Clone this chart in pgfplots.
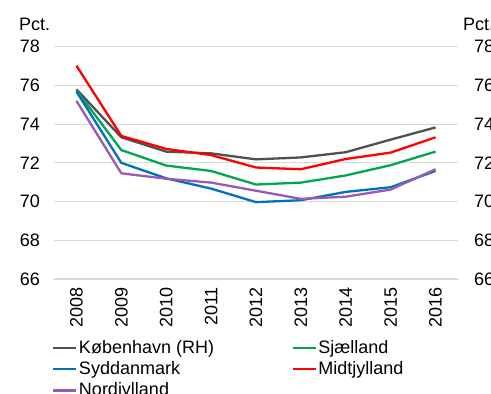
\documentclass[border=0pt]{standalone}
\usepackage{fontspec}
\setmainfont{Liberation Sans}
\usepackage{pgfplots}
\pgfplotsset{compat=1.18}
\definecolor{cKbh}{HTML}{505050}
\definecolor{cSja}{HTML}{00A650}
\definecolor{cSyd}{HTML}{0070C0}
\definecolor{cMid}{HTML}{FF0000}
\definecolor{cNor}{HTML}{9B59B6}
\definecolor{gridc}{HTML}{D9D9D9}
\begin{document}
\fontsize{18bp}{21bp}\selectfont
\begin{tikzpicture}[font=\fontsize{18bp}{21bp}\selectfont]
\begin{axis}[
  at={(0,0)}, anchor=south west,
  scale only axis, width=404bp, height=232.3bp,
  xmin=-0.5, xmax=8.5, ymin=66, ymax=78,
  xtick={0,1,2,3,4,5,6,7,8},
  xticklabels={2008,2009,2010,2011,2012,2013,2014,2015,2016},
  ytick={66,68,70,72,74,76,78},
  ymajorgrids,
  major grid style={draw=gridc, line width=1.2bp},
  axis line style={draw=none},
  tick style={draw=none},
  xticklabel style={rotate=90, anchor=east, inner ysep=0pt, inner xsep=8bp},
  yticklabel style={anchor=east, inner sep=0pt, xshift=-14bp},
  /pgf/number format/assume math mode=true,
  legend columns=2,
  legend cell align=left,
  legend style={draw=none, fill=none, at={(0,0)}, anchor=north west,
    xshift=-2bp, yshift=-59.5bp, inner sep=0pt, row sep=2.5bp,
    nodes={inner sep=1.5bp},
    /tikz/every even column/.append style={column sep=76bp}},
  legend image code/.code={\draw[#1] (0bp,0bp) -- (23bp,0bp);},
  every axis plot/.append style={line width=2.3bp},
]
\addplot[cKbh] coordinates {(0,75.80) (1,73.32) (2,72.58) (3,72.49) (4,72.18) (5,72.28) (6,72.55) (7,73.20) (8,73.83)};
\addlegendentry{København (RH)}
\addplot[cSja] coordinates {(0,75.75) (1,72.66) (2,71.86) (3,71.58) (4,70.88) (5,70.98) (6,71.35) (7,71.88) (8,72.58)};
\addlegendentry{Sjælland}
\addplot[cSyd] coordinates {(0,75.68) (1,72.00) (2,71.20) (3,70.67) (4,69.97) (5,70.07) (6,70.50) (7,70.74) (8,71.58)};
\addlegendentry{Syddanmark}
\addplot[cMid] coordinates {(0,77.02) (1,73.39) (2,72.72) (3,72.40) (4,71.76) (5,71.67) (6,72.20) (7,72.53) (8,73.32)};
\addlegendentry{Midtjylland}
\addplot[cNor] coordinates {(0,75.20) (1,71.46) (2,71.18) (3,70.98) (4,70.56) (5,70.14) (6,70.25) (7,70.62) (8,71.67)};
\addlegendentry{Nordjylland}
\end{axis}
\begin{axis}[
  at={(0,0)}, anchor=south west,
  scale only axis, width=404bp, height=232.3bp,
  xmin=-0.5, xmax=8.5, ymin=66, ymax=78,
  axis x line=none, axis y line*=right,
  ytick={66,68,70,72,74,76,78},
  yticklabel pos=right,
  axis line style={draw=none},
  tick style={draw=none},
  yticklabel style={anchor=west, inner sep=0pt, xshift=16bp},
  /pgf/number format/assume math mode=true,
]
\addplot[draw=none] coordinates {(0,70)};
\end{axis}
\node[anchor=base west, inner sep=0pt] at (-35bp,248bp) {Pct.};
\node[anchor=base west, inner sep=0pt] at (409bp,248bp) {Pct.};
\pgfresetboundingbox
\path[use as bounding box] (-54bp,-115bp) rectangle (437bp,279bp);
\end{tikzpicture}
\end{document}
